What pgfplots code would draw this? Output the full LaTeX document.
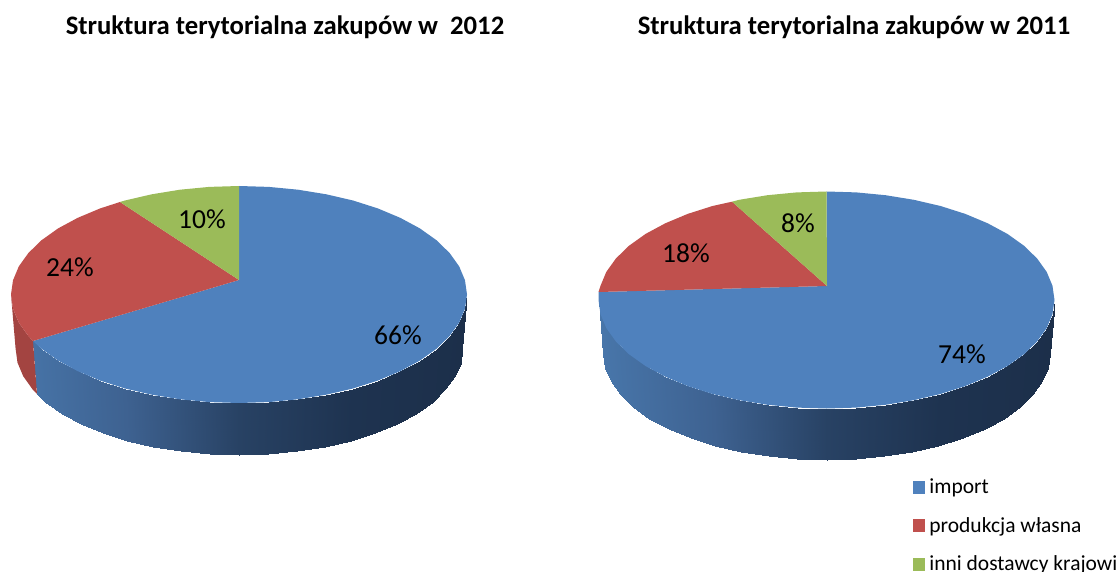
\documentclass[border=0pt]{standalone}
\usepackage{fontspec}
\setmainfont{Carlito}
\usepackage{pgfplots}
\pgfplotsset{compat=1.18}
\definecolor{cblue}{RGB}{79,129,189}
\definecolor{cred}{RGB}{192,80,77}
\definecolor{cgreen}{RGB}{155,187,89}
\definecolor{credside}{RGB}{163,68,65}
\pgfplotsset{
  colormap={sideblue}{rgb255(0)=(72,118,170) rgb255(0.25)=(62,98,145) rgb255(0.5)=(40,66,100) rgb255(0.75)=(30,51,80) rgb255(1)=(28,47,74)},
  flatpart/.style={fill=#1,draw=none,forget plot},
  sidepart/.style={surf,shader=interp,mesh/ordering=y varies,mesh/rows=2,point meta=explicit,colormap name=sideblue,forget plot},
}
\begin{document}
\begin{tikzpicture}
\useasboundingbox (0,0) rectangle (1120pt,572pt);
\clip (0,0) rectangle (1120pt,572pt);
\begin{axis}[
  at={(0,0)},anchor=south west,
  scale only axis,width=1120pt,height=572pt,
  xmin=0,xmax=1120,ymin=0,ymax=572,y dir=reverse,hide axis,
  point meta min=0,point meta max=1,
  legend cell align=left,
  legend style={at={(axis cs:913,477)},anchor=north west,draw=none,fill=none,font=\fontsize{21.5}{24}\selectfont,row sep=18pt,inner sep=0pt,outer sep=0pt,
    /tikz/every even column/.style={column sep=7pt}},
  legend image code/.code={\fill[#1] (0pt,-6pt) rectangle (14pt,6pt);\fill[white] (12pt,-7pt) rectangle (14pt,7pt);},
]
% left pie: side walls
\addplot[sidepart] table[x=x,y=y,meta=c] {
x y c
467.0 294.5 1.000
462.4 348.7 1.000
465.0 308.7 0.995
460.5 362.6 0.995
459.2 322.6 0.983
454.8 376.2 0.983
449.6 336.0 0.962
445.4 389.4 0.962
436.5 348.75 0.933
432.6 401.9 0.933
419.9 360.6 0.897
416.3 413.5 0.897
400.2 371.2 0.853
397.0 423.9 0.853
377.8 380.6 0.804
375.0 433.1 0.804
353.0 388.5 0.750
350.7 440.8 0.750
326.3 394.7 0.691
324.6 446.9 0.691
298.0 399.3 0.629
296.8 451.4 0.629
268.8 402.1 0.565
268.2 454.1 0.565
239.0 403.0 0.500
239.0 455.0 0.500
209.2 402.1 0.435
209.8 454.1 0.435
180.0 399.3 0.371
181.2 451.4 0.371
151.7 394.7 0.309
153.4 446.9 0.309
125.0 388.5 0.250
127.3 440.8 0.250
100.2 380.6 0.196
103.0 433.1 0.196
77.8 371.2 0.147
81.0 423.9 0.147
58.1 360.6 0.103
61.7 413.5 0.103
41.5 348.75 0.067
45.4 401.9 0.067
33.0 341.0 0.048
37.0 394.0 0.048
};
\addplot[flatpart=credside] coordinates {
(33,341)(28.4,336)(18.8,322.6)(13,308.7)(11,294.5)(15.6,348.7)(17.5,362.6)(23.2,376.2)(32.6,389.4)(37,394)} -- cycle;
% left pie: top face
\addplot[flatpart=cblue] coordinates {
(239,280)(239,186)(268.8,186.9)(298,189.7)(326.3,194.3)(353,200.5)(377.8,208.4)(400.2,217.8)(419.9,228.4)(436.5,240.25)(449.6,253)(459.2,266.4)(465,280.3)(467,294.5)(465,308.7)(459.2,322.6)(449.6,336)(436.5,348.75)(419.9,360.6)(400.2,371.2)(377.8,380.6)(353,388.5)(326.3,394.7)(298,399.3)(268.8,402.1)(239,403)(209.2,402.1)(180,399.3)(151.7,394.7)(125,388.5)(100.2,380.6)(77.8,371.2)(58.1,360.6)(41.5,348.75)(33,341)} -- cycle;
\addplot[flatpart=cred] coordinates {
(239,280)(33,341)(28.4,336)(18.8,322.6)(13,308.7)(11,294.5)(13,280.3)(18.8,266.4)(28.4,253)(41.5,240.25)(58.1,228.4)(77.8,217.8)(100.2,208.4)(120,202)} -- cycle;
\addplot[flatpart=cgreen] coordinates {
(239,280)(120,202)(125,200.5)(151.7,194.3)(180,189.7)(209.2,186.9)(239,186)} -- cycle;
% right pie: side wall
\addplot[sidepart] table[x=x,y=y,meta=c] {
x y c
1054.5 300.0 1.000
1049.9 353.7 1.000
1052.5 314.2 0.995
1048.0 367.6 0.995
1046.7 328.1 0.983
1042.3 381.2 0.983
1037.1 341.5 0.962
1032.9 394.4 0.962
1024.0 354.25 0.933
1020.1 406.9 0.933
1007.4 366.1 0.897
1003.8 418.5 0.897
987.7 376.7 0.853
984.5 428.9 0.853
965.3 386.1 0.804
962.5 438.1 0.804
940.5 394.0 0.750
938.2 445.8 0.750
913.8 400.2 0.691
912.1 451.9 0.691
885.5 404.8 0.629
884.3 456.4 0.629
856.3 407.6 0.565
855.7 459.1 0.565
826.5 408.5 0.500
826.5 460.0 0.500
796.7 407.6 0.435
797.3 459.1 0.435
767.5 404.8 0.371
768.7 456.4 0.371
739.2 400.2 0.309
740.9 451.9 0.309
712.5 394.0 0.250
714.8 445.8 0.250
687.7 386.1 0.196
690.5 438.1 0.196
665.3 376.7 0.147
668.5 428.9 0.147
645.6 366.1 0.103
649.2 418.5 0.103
629.0 354.25 0.067
632.9 406.9 0.067
615.9 341.5 0.038
620.1 394.4 0.038
606.3 328.1 0.017
610.7 381.2 0.017
600.5 314.2 0.005
605.0 367.6 0.005
598.5 300.0 0.000
603.1 353.7 0.000
};
% right pie: top face
\addplot[flatpart=cblue] coordinates {
(827,286)(826.5,191.5)(856.3,192.4)(885.5,195.2)(913.8,199.8)(940.5,206)(965.3,213.9)(987.7,223.3)(1007.4,233.9)(1024,245.75)(1037.1,258.5)(1046.7,271.9)(1052.5,285.8)(1054.5,300)(1052.5,314.2)(1046.7,328.1)(1037.1,341.5)(1024,354.25)(1007.4,366.1)(987.7,376.7)(965.3,386.1)(940.5,394)(913.8,400.2)(885.5,404.8)(856.3,407.6)(826.5,408.5)(796.7,407.6)(767.5,404.8)(739.2,400.2)(712.5,394)(687.7,386.1)(665.3,376.7)(645.6,366.1)(629,354.25)(615.9,341.5)(606.3,328.1)(600.5,314.2)(598.5,300)(598.5,292)} -- cycle;
\addplot[flatpart=cred] coordinates {
(827,286)(598.5,292)(600.5,285.8)(606.3,271.9)(615.9,258.5)(629,245.75)(645.6,233.9)(665.3,223.3)(687.7,213.9)(712.5,206)(732,201.7)} -- cycle;
\addplot[flatpart=cgreen] coordinates {
(827,286)(732,201.7)(739.2,199.8)(767.5,195.2)(796.7,192.4)(826.5,191.5)} -- cycle;
% legend
\addlegendimage{cblue}\addlegendentry{import}
\addlegendimage{cred}\addlegendentry{produkcja własna}
\addlegendimage{cgreen}\addlegendentry{inni dostawcy krajowi}
% texts
\node[font=\fontsize{26.7}{30}\selectfont\bfseries] at (axis cs:285,27) {Struktura terytorialna zakupów w\ \ 2012};
\node[font=\fontsize{26.7}{30}\selectfont\bfseries] at (axis cs:854,27) {Struktura terytorialna zakupów w 2011};
\node[font=\fontsize{27.5}{30}\selectfont] at (axis cs:398,335) {66\%};
\node[font=\fontsize{27.5}{30}\selectfont] at (axis cs:70,267) {24\%};
\node[font=\fontsize{27.5}{30}\selectfont] at (axis cs:202,219) {10\%};
\node[font=\fontsize{27.5}{30}\selectfont] at (axis cs:962,354) {74\%};
\node[font=\fontsize{27.5}{30}\selectfont] at (axis cs:686,253) {18\%};
\node[font=\fontsize{27.5}{30}\selectfont] at (axis cs:798,223) {8\%};
\end{axis}
\end{tikzpicture}
\end{document}
